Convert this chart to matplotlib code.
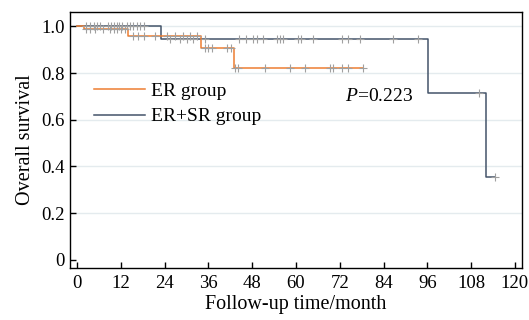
import matplotlib
matplotlib.use("Agg")
import matplotlib.pyplot as plt
import numpy as np

plt.rcParams['font.family'] = ['Liberation Serif', 'DejaVu Serif']
plt.rcParams['mathtext.fontset'] = 'custom'
plt.rcParams['mathtext.it'] = 'Liberation Serif:italic'
plt.rcParams['mathtext.rm'] = 'Liberation Serif'

# Kaplan-Meier steps (time in months, survival)
er_t = [0, 2, 14, 34, 43, 78.4]
er_s = [1.0, 0.989, 0.958, 0.906, 0.82, 0.82]
ersr_t = [0, 23, 96.3, 112.2, 114.5]
ersr_s = [1.0, 0.947, 0.714, 0.357, 0.357]

# censored observations
er_cens = [2.5, 3.5, 5, 7, 9, 10, 11, 12, 13,
           15.2, 16.8, 18.2, 21.3, 24.6, 26.8, 29.1, 31, 32.8,
           35, 36, 36.9, 41.1, 42.2,
           43.3, 44.2, 51.5, 58.4, 62.5, 69.3, 70.2, 72.5, 74.3, 78.4]
ersr_cens = [2.5, 3.4, 4.5, 5.4, 6.3, 8.6, 9.3, 10, 10.9, 11.6, 12.3,
             13.6, 14.5, 15.4, 16.3, 17.3, 18.2,
             25.5, 28.2, 30.1, 31.9, 35, 44.5, 46.3, 48.1, 49.4, 50.9,
             54.7, 55.6, 56.5, 60.6, 61.3, 64.6, 72.5, 74.3, 77.5, 86.5, 93.5,
             110.2, 114.5]

xticks = [0, 12, 24, 36, 48, 60, 72, 84, 96, 108, 120]
yticks = [0, 0.2, 0.4, 0.6, 0.8, 1.0]
ylabels = ['0', '0.2', '0.4', '0.6', '0.8', '1.0']

c_er = '#ED7D31'
c_ersr = '#44546A'
c_cens = '#A0A0A0'


def surv_at(t, times, surv):
    i = np.searchsorted(times, t, side='right') - 1
    return np.array(surv)[i]


fig = plt.figure(figsize=(5.29, 3.2), dpi=100)
ax = fig.add_axes([0.132, 0.1625, 0.855, 0.8])

for y in yticks[1:]:
    ax.axhline(y, color='#E4EBEE', lw=1.0, zorder=0)

ax.step(ersr_t, ersr_s, where='post', color=c_ersr, lw=1.1, label='ER+SR group', zorder=2)
ax.step(er_t, er_s, where='post', color=c_er, lw=1.1, label='ER group', zorder=3)

ax.plot(ersr_cens, surv_at(ersr_cens, ersr_t, ersr_s), ls='none', marker='+',
        ms=6, mew=0.8, color=c_cens, zorder=4)
ax.plot(er_cens, surv_at(er_cens, er_t, er_s), ls='none', marker='+',
        ms=6, mew=0.8, color=c_cens, zorder=4)

ax.set_xlim(-2, 122)
ax.set_ylim(-0.035, 1.062)
ax.set_xticks(xticks)
ax.set_yticks(yticks)
ax.set_yticklabels(ylabels)
ax.tick_params(direction='in', length=4, width=1, labelsize=13.5)
ax.tick_params(axis='x', pad=5)
for s in ax.spines.values():
    s.set_linewidth(1.0)

ax.set_xlabel('Follow-up time/month', fontsize=14.5, labelpad=2)
ax.set_ylabel('Overall survival', fontsize=14.5, labelpad=5)

h, l = ax.get_legend_handles_labels()
ax.legend(h[::-1], l[::-1], loc='upper left', bbox_to_anchor=(0.015, 0.795),
          frameon=False, fontsize=14, handlelength=2.6, handletextpad=0.35,
          labelspacing=0.42)

ax.text(73.4, 0.70, r'$P$=0.223', fontsize=14, va='center', ha='left')

fig.savefig('out.png', dpi=100)
